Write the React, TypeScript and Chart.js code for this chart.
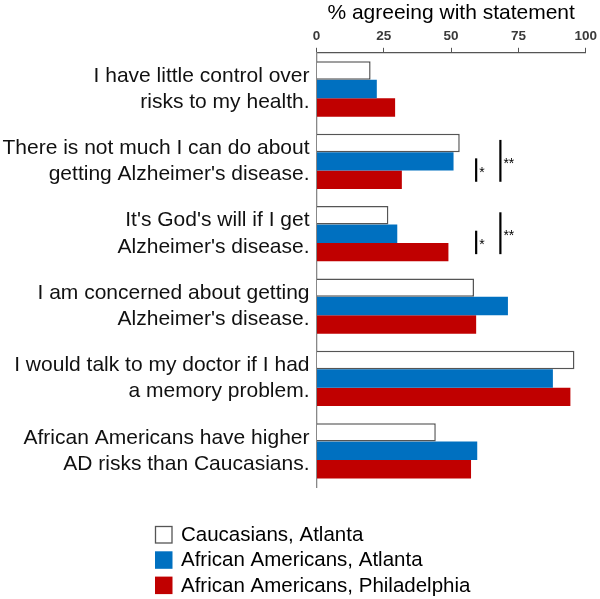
import React, { useEffect, useRef } from "react";
import { Chart, registerables } from "chart.js";

Chart.register(...registerables);

const categories: string[][] = [
  ["I have little control over", "risks to my health."],
  ["There is not much I can do about", "getting Alzheimer's disease."],
  ["It's God's will if I get", "Alzheimer's disease."],
  ["I am concerned about getting", "Alzheimer's disease."],
  ["I would talk to my doctor if I had", "a memory problem."],
  ["African Americans have higher", "AD risks than Caucasians."],
];

const seriesNames = [
  "Caucasians, Atlanta",
  "African Americans, Atlanta",
  "African Americans, Philadelphia",
];

const caucasiansAtlanta = [20.1, 53.2, 26.7, 58.5, 95.8, 44.3];
const africanAmericansAtlanta = [22.4, 50.9, 30.0, 71.1, 87.8, 59.7];
const africanAmericansPhiladelphia = [29.2, 31.7, 49.0, 59.3, 94.3, 57.4];

const xTicks = [0, 25, 50, 75, 100];

// significance brackets: category index, dataset from/to, x value, label
const sigCategory = [1, 1, 2, 2];
const sigFrom = [1, 0, 1, 0];
const sigTo = [2, 2, 2, 2];
const sigX = [59.3, 68.3, 59.3, 68.3];
const sigLabel = ["*", "**", "*", "**"];

const fills = ["#FFFFFF", "#0070C0", "#C00000"];
const borders = ["#555555", "#0070C0", "#C00000"];
const borderWidths = [1.5, 0, 0];

const FONT = "'Liberation Sans', Arial, sans-serif";

const sigPlugin = {
  id: "sigPlugin",
  afterDatasetsDraw(chart: any) {
    const ctx = chart.ctx;
    const xs = chart.scales.x;
    ctx.save();
    for (let i = 0; i < sigCategory.length; i++) {
      const c = sigCategory[i];
      const y0 = chart.getDatasetMeta(sigFrom[i]).data[c].y;
      const y1 = chart.getDatasetMeta(sigTo[i]).data[c].y;
      const x = xs.getPixelForValue(sigX[i]);
      const top = y0 - 3;
      const bot = y1 + 2;
      ctx.strokeStyle = "#000";
      ctx.lineWidth = 2.2;
      ctx.beginPath();
      ctx.moveTo(x, top);
      ctx.lineTo(x, bot);
      ctx.stroke();
      ctx.fillStyle = "#000";
      ctx.font = `14px ${FONT}`;
      ctx.textAlign = "left";
      ctx.textBaseline = "alphabetic";
      const mid = (top + bot) / 2;
      ctx.fillText(sigLabel[i], x + 3, mid + 7);
    }
    ctx.restore();
  },
};

const legendPlugin = {
  id: "boxLegend",
  afterDraw(chart: any) {
    const ctx = chart.ctx;
    const base = chart.chartArea.bottom;
    const left = 155;
    ctx.save();
    ctx.font = `20.5px ${FONT}`;
    ctx.textAlign = "left";
    ctx.textBaseline = "middle";
    for (let i = 0; i < seriesNames.length; i++) {
      const top = base + 39 + i * 25.3;
      ctx.fillStyle = fills[i];
      ctx.fillRect(left, top, 17.5, 17.5);
      if (i === 0) {
        ctx.strokeStyle = "#555";
        ctx.lineWidth = 1.3;
        ctx.strokeRect(left + 0.5, top + 0.5, 16.5, 16.5);
      }
      ctx.fillStyle = "#000";
      ctx.fillText(seriesNames[i], left + 26, top + 9.5);
    }
    ctx.restore();
  },
};

export default function App() {
  const ref = useRef<HTMLCanvasElement | null>(null);
  useEffect(() => {
    document.body.style.margin = "0";
    const seriesData = [caucasiansAtlanta, africanAmericansAtlanta, africanAmericansPhiladelphia];
    const chart = new Chart(ref.current as HTMLCanvasElement, {
      type: "bar",
      data: {
        labels: categories,
        datasets: seriesData.map((d, i) => ({
          label: seriesNames[i],
          data: d,
          backgroundColor: fills[i],
          borderColor: borders[i],
          borderWidth: borderWidths[i],
          borderSkipped: "left",
          barPercentage: 1,
          categoryPercentage: 0.764,
        })),
      },
      options: {
        indexAxis: "y",
        animation: false,
        responsive: false,
        maintainAspectRatio: false,
        layout: { padding: { top: 1.5, right: 14, bottom: 112, left: 0 } },
        plugins: {
          legend: { display: false },
          tooltip: { enabled: false },
        },
        scales: {
          x: {
            position: "top",
            min: 0,
            max: 100,
            afterBuildTicks: (s: any) => {
              s.ticks = xTicks.map((v) => ({ value: v }));
            },
            ticks: {
              color: "#3a3a3a",
              font: { family: FONT, size: 13.5, weight: "bold" },
              padding: 3,
            },
            grid: {
              drawOnChartArea: false,
              drawTicks: true,
              tickLength: 5,
              color: "#555",
            },
            border: { display: true, color: "#555", width: 1.3 },
            title: {
              display: true,
              text: "% agreeing with statement",
              color: "#000",
              font: { family: FONT, size: 21, lineHeight: 1.1 },
              padding: { top: 0, bottom: 1 },
            },
          },
          y: {
            afterFit: (s: any) => {
              s.width = 316.5;
            },
            ticks: {
              color: "#111",
              font: { family: FONT, size: 21, lineHeight: 1.24 },
              padding: 7,
            },
            grid: { display: false, drawTicks: false },
            border: { display: true, color: "#888", width: 1.3 },
          },
        },
      },
      plugins: [sigPlugin, legendPlugin],
    } as any);
    return () => chart.destroy();
  }, []);
  return (
    <div style={{ width: 600, height: 599 }}>
      <canvas ref={ref} width={600} height={599} style={{ display: "block" }} />
    </div>
  );
}
